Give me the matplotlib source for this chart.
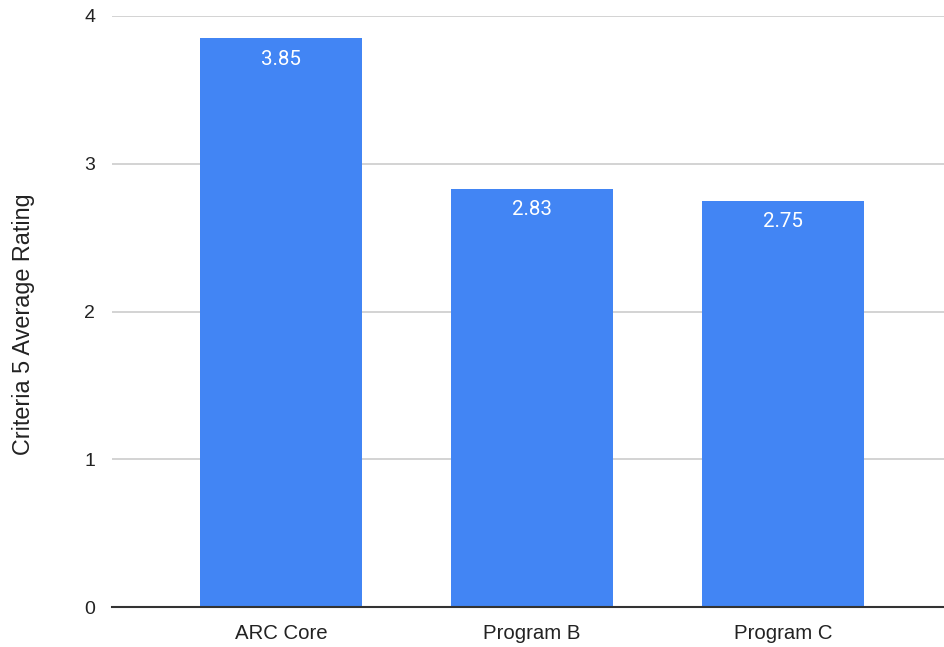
import matplotlib
matplotlib.use("Agg")
import matplotlib.pyplot as plt

categories = ["ARC Core", "Program B", "Program C"]
values = [3.85, 2.83, 2.75]
yticks = [0, 1, 2, 3, 4]
ylabel = "Criteria 5 Average Rating"

W, H = 944, 647
fig = plt.figure(figsize=(W / 100, H / 100), dpi=100)
ax = fig.add_axes([112 / W, 1 - 607 / H, (944 - 112) / W, (607 - 16) / H])

x = list(range(len(categories)))
bars = ax.bar(x, values, width=0.645, color="#4285F4", zorder=3)

ax.set_ylim(0, 4)
ax.set_xlim(-0.673, 2.64)
ax.set_yticks(yticks)
ax.set_yticklabels([str(t) for t in yticks], fontsize=14, family="Liberation Sans", color="#222222")
ax.set_xticks(x)
ax.set_xticklabels(categories, fontsize=14.7, family="Liberation Sans", color="#222222")
ax.tick_params(axis="y", length=0, pad=12)
ax.tick_params(axis="x", length=0, pad=12)

ax.grid(axis="y", color="#cccccc", linewidth=1.2, zorder=0)
for s in ["top", "right", "left"]:
    ax.spines[s].set_visible(False)
ax.spines["bottom"].set_color("#333333")
ax.spines["bottom"].set_linewidth(1.5)
ax.spines["bottom"].set_zorder(4)

ax.set_ylabel(ylabel, fontsize=16.8, family="Liberation Sans", color="#222222")
ax.yaxis.set_label_coords(-(112 - 35) / (944 - 112), 0.5 - 13 / 591)

for b, v in zip(bars, values):
    ax.annotate(f"{v:.2f}", (b.get_x() + b.get_width() / 2, v),
                xytext=(0, -21), textcoords="offset pixels",
                ha="center", va="center", color="white", fontsize=14.8, family="Roboto", zorder=5)

fig.savefig("out.png", dpi=100)
